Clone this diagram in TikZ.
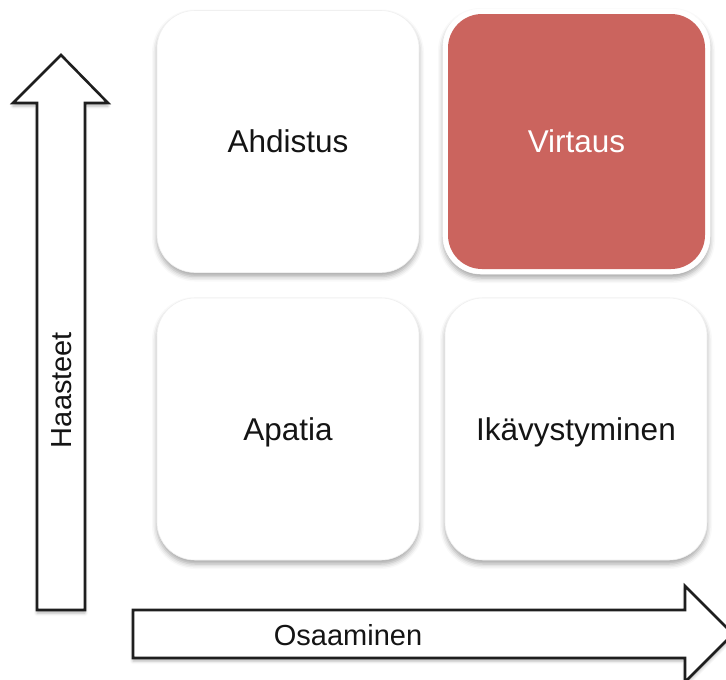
\documentclass[tikz,border=0pt]{standalone}
\usepackage{fontspec}
\setmainfont{Liberation Sans}
\usetikzlibrary{shadows.blur}
\definecolor{flowred}{RGB}{203,100,94}
\definecolor{arrowline}{RGB}{30,30,30}
\tikzset{
  cell/.style={rounded corners=38pt, fill=white, draw=black!6, line width=0.6pt,
    minimum width=262pt, minimum height=262pt, inner sep=0pt,
    font=\fontsize{31.5}{36}\selectfont, text=black!92, text depth=0pt,
    blur shadow={shadow xshift=0pt, shadow yshift=-4pt, shadow blur radius=5pt, shadow opacity=35}},
  redcell/.style={rounded corners=34pt, fill=flowred, draw=none,
    minimum width=257pt, minimum height=255pt, inner sep=0pt,
    font=\fontsize{31.5}{36}\selectfont, text=white, text depth=0pt},
  bigarrow/.style={draw=arrowline, line width=2.6pt, fill=white, line join=miter,
    blur shadow={shadow xshift=0pt, shadow yshift=-3pt, shadow blur radius=3pt, shadow opacity=30}},
  axislabel/.style={font=\fontsize{29}{34}\selectfont, text=black!92, inner sep=0pt}
}
\begin{document}
\begin{tikzpicture}[x=1pt,y=-1pt]
\useasboundingbox (0,0) rectangle (726,680);
% vertical arrow
\draw[bigarrow] (37,610) -- (37,103) -- (13,103) -- (61,55) -- (108,103) -- (85,103) -- (85,610) -- cycle;
% horizontal arrow
\draw[bigarrow] (133,610) -- (685,610) -- (685,586) -- (733,634) -- (685,682) -- (685,658) -- (133,658) -- cycle;
\node[axislabel, rotate=90] (haasteet) at (62,390) {Haasteet};
\node[axislabel] (osaaminen) at (348,635) {Osaaminen};
% cells
\node[cell] (ahdistus) at (288,141.5) {Ahdistus};
\node[cell, minimum width=267pt, minimum height=265pt, draw=white] (virtausbg) at (576.5,141.5) {};
\node[redcell] (virtaus) at (576.5,141.5) {Virtaus};
\node[cell] (apatia) at (288,429) {Apatia};
\node[cell] (ikavy) at (576,429) {Ikävystyminen};
\end{tikzpicture}
\end{document}
